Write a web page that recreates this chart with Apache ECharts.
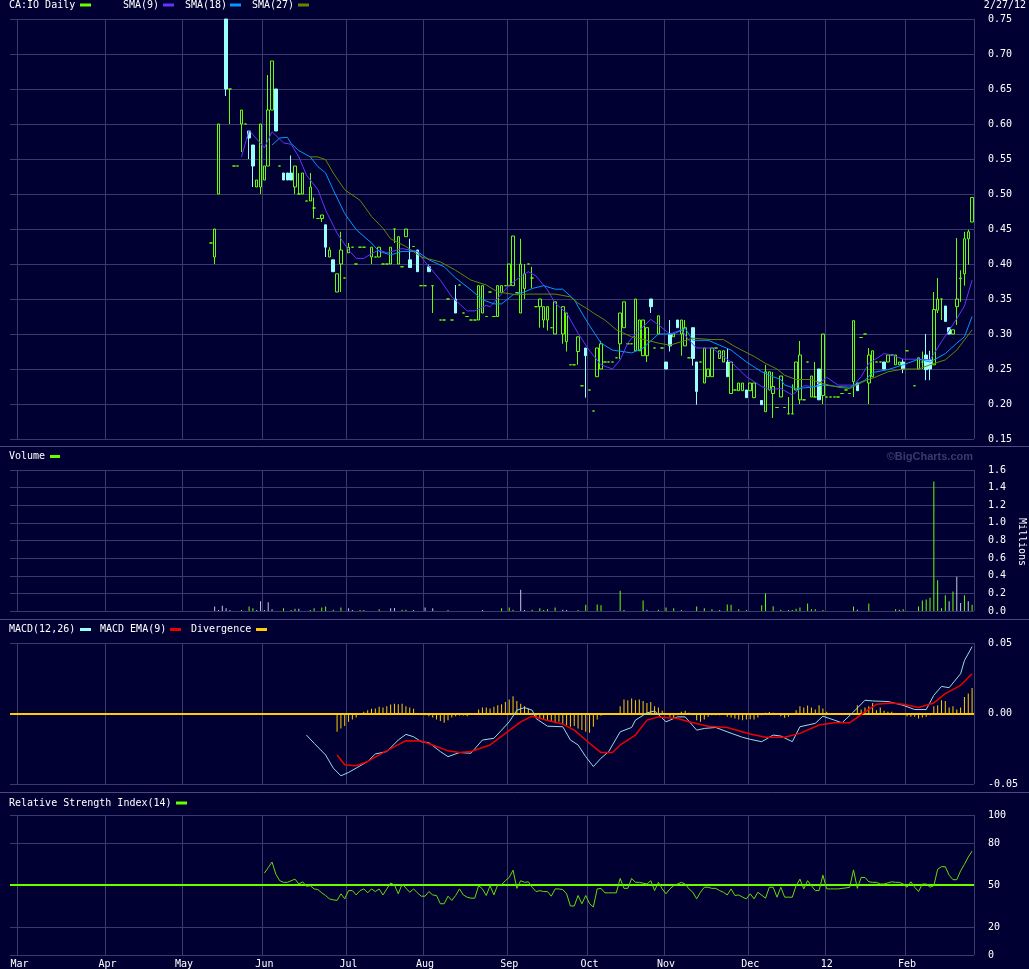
<!DOCTYPE html>
<html><head><meta charset="utf-8">
<script src="https://cdn.jsdelivr.net/npm/echarts@6/dist/echarts.min.js"></script>
<style>html,body{margin:0;padding:0;background:#000033;}#c{width:1029px;height:969px;}</style>
</head><body><div id="c"></div>
<script>
// ---------- calendar (trading days, TSX-V holidays excluded) ----------
const holidays = ['2011-04-22','2011-05-23','2011-07-01','2011-08-01','2011-09-05','2011-10-10','2011-12-26','2011-12-27','2012-01-02','2012-02-20'];
const firstDay = '2011-03-01', lastDay = '2012-02-27';
const monthLabels = ['12','Feb','Mar','Apr','May','Jun','Jul','Aug','Sep','Oct','Nov','Dec'];
const priceTicks = {min: 0.15, max: 0.75, step: 0.05};
const volTicks = {min: 0, max: 1.6, step: 0.2};
const macdTicks = {min: -0.05, max: 0.05, step: 0.05};
const rsiLabels = [0, 20, 50, 80, 100];

// ---------- price: [dayIndex, open, close, low, high] ----------
const ohlc = [
[50,.43,.43,.43,.43],[51,.41,.45,.40,.45],[52,.50,.60,.50,.60],[54,.75,.65,.64,.75],[55,.65,.65,.60,.65],
[56,.54,.54,.54,.54],[57,.54,.54,.54,.54],[58,.60,.62,.56,.62],[59,.60,.60,.60,.60],[60,.59,.58,.55,.59],
[61,.57,.54,.51,.57],[62,.51,.52,.51,.52],[63,.51,.60,.50,.60],[64,.52,.54,.52,.54],[65,.54,.62,.54,.67],
[66,.62,.69,.62,.69],[67,.65,.59,.59,.65],[68,.54,.54,.54,.54],[69,.53,.52,.52,.53],[70,.53,.52,.52,.53],
[71,.53,.52,.52,.555],[72,.51,.54,.50,.54],[73,.50,.50,.50,.53],[74,.50,.53,.50,.53],[75,.49,.49,.49,.49],
[76,.49,.51,.49,.53],[77,.48,.48,.465,.495],[78,.465,.465,.465,.465],[79,.465,.47,.46,.47],[80,.456,.424,.41,.456],
[81,.41,.42,.41,.424],[82,.406,.389,.389,.406],[83,.36,.386,.36,.386],[84,.40,.42,.36,.446],[85,.38,.38,.38,.38],
[86,.416,.424,.416,.43],[87,.424,.424,.424,.424],[88,.40,.40,.40,.40],[89,.424,.424,.424,.424],[90,.424,.424,.424,.424],
[92,.41,.424,.40,.424],[93,.41,.41,.41,.41],[94,.41,.424,.41,.424],[95,.40,.40,.40,.40],[96,.40,.40,.40,.40],
[97,.40,.424,.40,.424],[98,.45,.45,.43,.45],[99,.40,.439,.40,.439],[100,.396,.396,.396,.396],[101,.439,.45,.439,.45],
[102,.406,.395,.395,.436],[103,.425,.425,.425,.425],[104,.42,.389,.389,.42],[105,.369,.369,.369,.369],[106,.369,.369,.369,.369],
[107,.396,.389,.389,.399],[108,.369,.369,.33,.369],[110,.32,.32,.32,.32],[111,.32,.32,.32,.32],[112,.35,.35,.35,.35],
[113,.32,.32,.32,.32],[114,.35,.33,.33,.37],[115,.37,.37,.37,.37],[116,.33,.33,.33,.33],[117,.325,.325,.325,.325],
[118,.32,.32,.32,.32],[119,.32,.32,.32,.32],[120,.32,.369,.32,.369],[121,.33,.369,.33,.369],[122,.325,.325,.325,.325],
[123,.36,.36,.36,.36],[124,.325,.325,.325,.325],[125,.325,.369,.325,.369],[126,.359,.369,.359,.369],[127,.369,.369,.369,.369],
[128,.369,.40,.369,.40],[129,.369,.44,.369,.44],[130,.359,.359,.359,.359],[131,.33,.40,.33,.436],[132,.365,.386,.35,.40],
[133,.40,.40,.40,.40],[134,.38,.38,.366,.396],[135,.339,.339,.339,.339],[136,.339,.35,.309,.35],[137,.32,.339,.309,.339],
[138,.32,.339,.305,.339],[139,.309,.309,.309,.309],[140,.30,.346,.30,.346],[142,.30,.339,.286,.339],[143,.289,.33,.275,.33],
[144,.256,.256,.256,.256],[145,.256,.256,.256,.256],[146,.275,.296,.256,.296],[147,.226,.226,.226,.226],[148,.28,.269,.209,.28],
[149,.22,.22,.22,.22],[150,.19,.19,.19,.19],[151,.239,.28,.239,.28],[152,.25,.286,.25,.29],[153,.26,.26,.26,.26],
[154,.26,.26,.26,.26],[155,.26,.26,.26,.26],[156,.266,.266,.266,.266],[157,.286,.33,.264,.33],[158,.309,.346,.309,.346],
[159,.286,.286,.286,.286],[160,.286,.286,.286,.286],[161,.276,.35,.276,.35],[162,.276,.32,.276,.32],[163,.269,.32,.269,.32],
[164,.269,.309,.26,.309],[165,.35,.339,.33,.35],[166,.28,.28,.28,.28],[167,.30,.326,.30,.326],[168,.28,.28,.28,.28],
[169,.26,.25,.25,.26],[170,.30,.283,.275,.32],[171,.296,.30,.296,.30],[172,.32,.309,.309,.32],[173,.30,.32,.269,.32],
[174,.283,.309,.283,.32],[175,.266,.266,.266,.266],[176,.309,.265,.255,.309],[177,.26,.218,.199,.26],[178,.26,.26,.26,.26],
[179,.23,.28,.23,.28],[180,.239,.25,.239,.25],[181,.239,.28,.239,.28],[182,.28,.28,.28,.28],[183,.265,.276,.265,.276],
[184,.26,.276,.26,.276],[185,.26,.239,.239,.28],[186,.215,.26,.215,.26],[187,.22,.22,.22,.22],[188,.219,.23,.219,.23],
[189,.219,.23,.219,.23],[190,.22,.209,.209,.22],[191,.219,.23,.219,.23],[192,.209,.23,.209,.23],[194,.205,.199,.199,.205],
[195,.189,.246,.189,.256],[196,.22,.246,.22,.246],[197,.215,.225,.18,.246],[198,.195,.195,.195,.195],[199,.21,.24,.21,.24],
[200,.195,.195,.195,.195],[201,.186,.186,.186,.21],[202,.186,.186,.186,.228],[203,.22,.26,.22,.26],[204,.206,.27,.20,.29],
[205,.206,.206,.206,.206],[206,.26,.26,.26,.26],[207,.21,.24,.21,.24],[208,.21,.21,.21,.26],[209,.25,.206,.206,.25],
[210,.212,.30,.20,.30],[211,.21,.21,.21,.21],[212,.21,.21,.21,.21],[213,.21,.21,.21,.21],[214,.21,.21,.21,.21],
[215,.215,.215,.215,.215],[216,.22,.22,.22,.22],[217,.215,.215,.215,.215],[218,.232,.319,.21,.319],[219,.23,.219,.219,.23],
[220,.295,.295,.295,.295],[221,.30,.30,.30,.30],[222,.23,.27,.20,.28],[223,.239,.276,.239,.276],[224,.26,.26,.26,.26],
[225,.26,.26,.26,.26],[226,.26,.25,.25,.26],[227,.26,.27,.26,.27],[228,.27,.27,.27,.27],[229,.256,.27,.256,.27],
[230,.256,.26,.256,.26],[231,.26,.25,.244,.264],[232,.276,.276,.276,.276],[234,.226,.226,.226,.226],[235,.25,.266,.25,.266],
[236,.26,.26,.25,.275],[237,.27,.249,.234,.30],[238,.263,.25,.234,.276],[239,.256,.335,.256,.36],[240,.334,.35,.33,.38],
[241,.35,.35,.32,.35],[242,.34,.318,.318,.34],[243,.309,.30,.30,.309],[244,.30,.306,.30,.306],[245,.339,.35,.313,.437],
[246,.379,.38,.346,.391],[247,.386,.436,.369,.446],[248,.436,.446,.399,.449],[249,.46,.495,.46,.495]
];

// ---------- moving averages: [dayIndex, value] ----------
const sma9 = [[58,.553],[60,.591],[64,.566],[66,.589],[69,.573],[71,.571],[73,.553],[75,.527],[78,.506],[80,.477],[83,.444],[86,.42],[88,.408],[90,.408],[92,.415],[94,.42],[96,.416],[100,.422],[104,.418],[106,.403],[110,.377],[113,.353],[117,.333],[119,.333],[122,.341],[123,.339],[125,.351],[128,.37],[131,.382],[133,.389],[135,.383],[138,.363],[140,.344],[143,.33],[146,.301],[149,.276],[152,.256],[155,.25],[157,.263],[159,.287],[161,.30],[165,.321],[167,.313],[170,.30],[173,.306],[175,.291],[177,.28],[181,.28],[186,.26],[190,.239],[194,.225],[196,.221],[199,.222],[202,.213],[205,.226],[208,.225],[211,.238],[214,.227],[218,.227],[220,.239],[222,.258],[226,.272],[228,.27],[231,.264],[235,.264],[238,.263],[241,.289],[243,.305],[245,.322],[247,.34],[249,.377]];
const sma18 = [[66,.57],[68,.58],[70,.581],[71,.572],[73,.562],[76,.553],[78,.539],[80,.53],[82,.506],[85,.472],[88,.449],[92,.43],[94,.418],[97,.413],[100,.418],[104,.418],[107,.406],[111,.396],[114,.38],[118,.363],[121,.349],[124,.343],[126,.343],[129,.356],[132,.36],[134,.365],[137,.369],[140,.364],[142,.364],[145,.349],[147,.33],[149,.312],[152,.287],[155,.277],[160,.273],[163,.28],[167,.30],[171,.30],[174,.308],[176,.291],[180,.291],[183,.284],[186,.277],[190,.26],[194,.246],[197,.239],[199,.235],[200,.227],[203,.222],[207,.224],[210,.227],[214,.225],[217,.224],[221,.234],[223,.245],[227,.249],[231,.256],[235,.264],[238,.26],[242,.272],[245,.287],[247,.296],[249,.325]];
const sma27 = [[76,.553],[78,.553],[80,.549],[82,.53],[85,.506],[89,.491],[92,.468],[95,.451],[97,.436],[101,.425],[105,.41],[110,.403],[114,.391],[118,.377],[122,.37],[125,.36],[130,.356],[133,.357],[137,.357],[140,.357],[144,.353],[146,.344],[149,.334],[150,.33],[153,.32],[156,.306],[160,.296],[164,.291],[167,.287],[170,.284],[173,.289],[176,.294],[181,.292],[184,.292],[187,.282],[192,.268],[195,.258],[198,.25],[200,.241],[203,.235],[207,.235],[210,.229],[214,.224],[217,.222],[221,.233],[224,.239],[227,.246],[231,.25],[235,.25],[238,.256],[242,.263],[245,.277],[249,.306]];

// ---------- volume (millions): [dayIndex, value, up?1:0] ----------
const volume = [[51,.05,0],[52,.01,0],[53,.06,0],[54,.03,0],[55,.01,0],[58,.01,1],[60,.05,1],[61,.03,1],[62,.01,0],[63,.11,0],[64,.01,0],[65,.10,0],[66,.02,0],[69,.03,1],[71,.01,1],[72,.025,1],[73,.025,0],[76,.01,1],[77,.03,1],[79,.04,1],[80,.05,1],[82,.015,1],[84,.04,1],[86,.03,0],[87,.01,0],[89,.01,1],[90,.01,1],[94,.02,1],[97,.03,0],[98,.035,0],[100,.015,1],[101,.015,1],[103,.01,1],[106,.04,0],[108,.03,0],[112,.01,1],[121,.01,0],[126,.03,1],[128,.04,1],[129,.015,1],[131,.24,0],[132,.01,0],[134,.015,1],[136,.03,1],[137,.01,1],[138,.02,1],[140,.04,1],[142,.015,0],[143,.01,0],[146,.01,1],[148,.07,1],[151,.075,1],[152,.065,1],[157,.23,1],[158,.01,0],[163,.12,1],[164,.015,0],[167,.015,1],[169,.04,1],[171,.03,1],[173,.01,1],[177,.05,1],[179,.03,1],[181,.02,1],[183,.01,1],[185,.075,1],[186,.07,1],[188,.02,1],[190,.01,1],[194,.065,1],[195,.20,1],[197,.055,1],[199,.015,1],[201,.01,1],[202,.01,1],[203,.025,1],[204,.04,1],[206,.085,1],[207,.02,1],[208,.02,1],[210,.01,1],[218,.05,1],[219,.015,0],[222,.085,1],[229,.02,1],[230,.015,1],[231,.02,1],[235,.05,1],[236,.12,1],[237,.13,1],[238,.15,1],[239,1.47,1],[240,.35,1],[241,.03,1],[242,.18,1],[243,.11,0],[244,.22,1],[245,.39,0],[246,.09,0],[247,.18,1],[248,.11,0],[249,.07,1]];

// ---------- MACD(12,26), EMA(9), divergence: [dayIndex, value] ----------
const macd = [[75,-.0153],[77,-.0211],[80,-.0294],[82,-.0387],[84,-.0442],[86,-.0418],[88,-.0387],[91,-.034],[93,-.0287],[96,-.027],[99,-.0188],[101,-.0148],[103,-.0165],[105,-.02],[107,-.0207],[110,-.027],[112,-.0306],[115,-.0277],[118,-.0282],[121,-.0188],[124,-.0176],[126,-.0118],[128,-.0059],[130,.0023],[132,.0042],[134,.0023],[135,-.0035],[138,-.009],[142,-.0094],[144,-.0188],[146,-.0223],[148,-.0306],[150,-.0376],[152,-.0317],[154,-.027],[157,-.013],[160,-.0099],[161,-.0047],[164,.0004],[166,.0018],[169,-.0059],[172,-.0024],[174,-.0024],[177,-.0118],[179,-.0106],[182,-.0099],[185,-.013],[189,-.0169],[191,-.0183],[194,-.02],[197,-.0153],[199,-.016],[202,-.02],[204,-.0094],[208,-.007],[210,-.0019],[213,-.0047],[215,-.0066],[218,.0011],[221,.0094],[223,.0089],[227,.0085],[231,.0058],[234,.0028],[237,.0028],[239,.0129],[241,.0192],[243,.0183],[246,.0282],[247,.0375],[249,.0474]];
const macdEma = [[83,-.0294],[85,-.0364],[88,-.0371],[91,-.034],[94,-.0294],[98,-.0235],[101,-.0193],[105,-.0195],[108,-.0223],[112,-.0265],[115,-.0277],[118,-.027],[123,-.0223],[127,-.0141],[131,-.0059],[134,-.0019],[137,-.0042],[142,-.0075],[145,-.0118],[149,-.0211],[152,-.0277],[155,-.0277],[157,-.0223],[161,-.0153],[164,-.0047],[167,-.0024],[172,-.0035],[175,-.0059],[180,-.009],[185,-.0099],[191,-.0146],[195,-.0169],[200,-.0169],[204,-.0141],[209,-.0082],[213,-.0066],[217,-.0066],[221,.0011],[224,.0065],[228,.0075],[231,.0065],[235,.0042],[239,.0075],[242,.0141],[246,.02],[249,.0282]];
const divergence = [[83,-.0129],[84,-.0106],[85,-.0089],[86,-.0059],[87,-.0042],[88,-.0028],
[90,.0012],[91,.0023],[92,.0033],[93,.0035],[94,.0047],[95,.0042],[96,.0052],[97,.0063],[98,.007],[99,.0066],[100,.007],[101,.0052],[102,.0042],[103,.0033],
[106,-.0012],[107,-.0019],[108,-.0028],[109,-.0042],[110,-.0054],[111,-.0066],[112,-.0047],[113,-.0028],[114,-.0019],[115,-.0014],[116,-.0014],[117,-.0019],
[120,.0028],[121,.0042],[122,.0042],[123,.0035],[124,.0047],[125,.0059],[126,.0066],[127,.0082],[128,.0099],[129,.0122],[130,.0089],[131,.007],[132,.0052],[133,.0035],
[135,-.0023],[136,-.0035],[137,-.0042],[138,-.0047],[139,-.0059],[140,-.007],[141,-.0059],[142,-.0075],[143,-.0084],[144,-.0094],[145,-.0089],[146,-.0106],[147,-.0117],[148,-.0129],[149,-.0136],[150,-.0094],[151,-.0042],[152,-.0016],
[157,.0052],[158,.0099],[159,.0094],[160,.0106],[161,.0094],[162,.0099],[163,.0089],[164,.0075],[165,.0082],[166,.0052],[167,.0042],[168,.0019],
[170,-.0023],[171,-.0035],[172,-.0012],[173,.0012],[174,.0019],[175,.0005],[176,-.0012],[177,-.0047],[178,-.0059],[179,-.0042],[180,-.0023],
[181,-.0012],[182,-.0012],[183,-.0012],[184,-.0005],[185,-.0023],[186,-.0028],[187,-.0035],[188,-.0042],[189,-.0047],[190,-.0042],[191,-.004],[192,-.0042],[193,-.0028],[194,-.0012],[195,.0005],[196,.001],[197,.0005],[198,-.0007],[199,-.0019],[200,-.0031],[201,-.0023],[202,-.001],
[203,.0023],[204,.0052],[205,.0042],[206,.0056],[207,.0042],[208,.0028],[209,.0059],[210,.0035],[211,.0012],
[215,-.0007],[217,-.0007],[219,.0059],[220,.0028],[221,.0042],[222,.0052],[223,.0075],[224,.0023],[225,.0042],[226,.0019],[227,.0012],[228,.0012],
[231,-.0007],[232,-.0019],[233,-.0023],[234,-.0023],[235,-.0035],[236,-.0028],[237,-.0023],[238,-.0012],
[239,.0052],[240,.0059],[241,.0094],[242,.0089],[243,.0042],[244,.0052],[245,.0028],[246,.0042],[247,.0117],[248,.0141],[249,.0181]];

// ---------- RSI(14): [dayIndex, value] ----------
const rsi = [[64,58.5],[65,62.4],[66,66.4],[67,57.7],[68,53.1],[69,51.9],[70,51.9],[72,54.2],[73,50.7],[74,52.3],[75,49.1],[76,49.5],[77,47.2],[78,46.7],[79,44.4],[80,42.5],[81,40.1],[82,39.4],[83,39.0],[84,43.7],[85,40.1],[86,46.0],[87,46.0],[88,42.9],[89,46.0],[90,47.2],[91,44.4],[92,47.2],[93,45.3],[94,47.2],[95,42.9],[96,47.2],[97,51.4],[98,50],[99,43.7],[100,50.7],[102,44.8],[103,47.2],[104,44.4],[105,42.0],[106,42.0],[107,45.3],[108,42.9],[109,42.5],[110,36.6],[111,36.6],[112,42.0],[113,39.0],[114,42.5],[115,47.2],[116,42.9],[117,41.3],[118,40.6],[119,40.6],[120,49.5],[121,47.2],[122,42.5],[123,49.5],[124,42.9],[125,50.2],[126,50.2],[127,53.1],[128,55.4],[129,60.6],[130,47.6],[131,53.1],[132,51.9],[133,52.3],[134,48.4],[135,45.3],[136,46.0],[137,45.3],[138,45.3],[139,42.0],[140,47.2],[141,47.2],[142,46.7],[143,43.7],[144,35.0],[145,35.0],[146,42.5],[147,36.6],[148,42.5],[149,36.6],[150,34.3],[151,47.2],[152,47.6],[153,44.4],[154,44.4],[155,44.4],[156,44.4],[157,54.7],[158,47.6],[159,47.6],[160,54.7],[161,51.9],[162,51.9],[164,50.7],[165,53.1],[166,46.0],[167,51.9],[168,47.2],[169,43.7],[170,47.2],[171,49.5],[172,50.7],[173,51.9],[174,50.7],[175,47.2],[176,44.8],[177,40.1],[178,44.8],[179,48.4],[180,48.4],[181,47.6],[182,47.6],[183,46.0],[184,44.8],[185,42.9],[186,47.2],[187,42.5],[188,42.9],[189,41.3],[190,40.1],[191,43.7],[192,40.1],[193,44.8],[195,40.6],[196,48.4],[197,48.4],[198,41.3],[199,48.4],[200,41.3],[201,41.3],[202,41.3],[203,49.5],[204,54.2],[205,47.2],[206,53.1],[207,49.5],[208,46.0],[209,46.0],[210,57.0],[211,47.2],[212,47.2],[213,47.2],[214,47.2],[215,47.6],[216,47.9],[217,48.4],[218,60.8],[219,47.6],[220,55.4],[221,55.4],[222,52.3],[223,51.9],[224,51.9],[225,50.7],[226,50.7],[227,51.5],[228,52.3],[229,51.9],[230,51.9],[231,50.7],[232,48.4],[233,52.3],[234,48.4],[235,45.3],[236,50.7],[237,50.7],[238,48.4],[239,49.5],[240,61.3],[241,63.1],[242,63.1],[243,57.0],[244,53.8],[245,53.8],[246,60.1],[247,64.8],[248,70.0],[249,74.2]];

// ---------- build ----------
const OFF = 2; // two empty slots at left edge of the plot
const iso = d => d.toISOString().slice(0, 10);
const days = [];
for (let d = new Date(firstDay + 'T00:00:00Z'); iso(d) <= lastDay; d.setUTCDate(d.getUTCDate() + 1)) {
  const wd = d.getUTCDay();
  if (wd === 0 || wd === 6 || holidays.includes(iso(d))) continue;
  days.push(iso(d));
}
const categories = ['', ''].concat(days);
const isMonthStart = categories.map((c, i) => c !== '' && (i === OFF || c.slice(5, 7) !== categories[i - 1].slice(5, 7)));
const monthFn = (idx) => isMonthStart[idx];
const shift = arr => arr.map(p => [p[0] + OFF, p[1]]);

const GRID = '#3a3a6c';
const FONT = 'DejaVu Sans Mono';
const GREEN = '#66ff00', CYAN = '#99ffff';

const grids = [
  {left: 10, right: 55, top: 19, height: 420},
  {left: 10, right: 55, top: 470, height: 141},
  {left: 10, right: 55, top: 643, height: 141},
  {left: 10, right: 55, top: 815, height: 142}
];
const xAxes = grids.map((g, i) => ({
  type: 'category', gridIndex: i, data: categories, boundaryGap: true,
  axisLine: {show: false}, axisTick: {show: false},
  axisLabel: {show: i === 3, interval: monthFn, margin: 4, color: '#ffffff', fontFamily: FONT, fontSize: 10,
    formatter: v => { if (!v) return ''; const m = +v.slice(5, 7) - 1; return monthLabels[m]; }},
  splitLine: {show: true, interval: monthFn, lineStyle: {color: GRID, width: 1}}
}));
const yBase = (i, t, fmt) => ({
  type: 'value', gridIndex: i, position: 'right', min: t.min, max: t.max, interval: t.step,
  axisLine: {show: false}, axisTick: {show: false},
  axisLabel: {margin: 14, color: '#ffffff', fontFamily: FONT, fontSize: 10, formatter: fmt},
  splitLine: {show: true, lineStyle: {color: GRID, width: 1}}
});
const yAxes = [
  yBase(0, priceTicks, v => v.toFixed(2)),
  yBase(1, volTicks, v => v.toFixed(1)),
  yBase(2, macdTicks, v => v.toFixed(2)),
  Object.assign(yBase(3, {min: 0, max: 100, step: 10}, v => rsiLabels.includes(Math.round(v)) ? String(Math.round(v)) : ''), {splitLine: {show: false}})
];

const lineSeries = (name, data, color, xi, extra) => Object.assign({
  name, type: 'line', xAxisIndex: xi, yAxisIndex: xi, data: shift(data), symbol: 'none', showSymbol: false,
  lineStyle: {color, width: 1}, itemStyle: {color}, z: 5, silent: true
}, extra || {});

const series = [
  {
    name: 'CA:IO Daily', type: 'candlestick', xAxisIndex: 0, yAxisIndex: 0, barWidth: 3,
    encode: {x: 0, y: [1, 2, 3, 4]},
    data: ohlc.map(d => [d[0] + OFF, d[1], d[2], d[3], d[4]]),
    itemStyle: {color: 'rgba(0,0,0,0)', color0: CYAN, borderColor: GREEN, borderColor0: CYAN, borderColorDoji: GREEN, borderWidth: 1},
    z: 3, silent: true
  },
  lineSeries('SMA(9)', sma9, '#6633ff', 0),
  lineSeries('SMA(18)', sma18, '#0099ff', 0),
  lineSeries('SMA(27)', sma27, '#668800', 0),
  {
    name: 'Volume', type: 'bar', xAxisIndex: 1, yAxisIndex: 1, barWidth: 1, silent: true,
    data: volume.map(v => ({value: [v[0] + OFF, v[1]], itemStyle: {color: v[2] ? GREEN : '#c8c8e0'}}))
  },
  {
    name: 'Divergence', type: 'bar', xAxisIndex: 2, yAxisIndex: 2, barWidth: 1, silent: true,
    data: shift(divergence), itemStyle: {color: '#ffcc00'},
    markLine: {silent: true, symbol: 'none', label: {show: false}, lineStyle: {color: '#ffcc00', width: 2, type: 'solid'}, data: [{yAxis: 0}]}
  },
  lineSeries('MACD(12,26)', macd, '#99dde6', 2),
  lineSeries('MACD EMA(9)', macdEma, '#ee0000', 2, {lineStyle: {color: '#ee0000', width: 1.5}}),
  lineSeries('RSI', rsi, '#66dd00', 3, {
    markLine: {silent: true, symbol: 'none', label: {show: false}, animation: false,
      data: [
        {yAxis: 0, lineStyle: {color: GRID, width: 1, type: 'solid'}},
        {yAxis: 20, lineStyle: {color: GRID, width: 1, type: 'solid'}},
        {yAxis: 80, lineStyle: {color: GRID, width: 1, type: 'solid'}},
        {yAxis: 100, lineStyle: {color: GRID, width: 1, type: 'solid'}},
        {yAxis: 50, lineStyle: {color: GREEN, width: 2, type: 'solid'}}
      ]}
  })
];

const txt = (text, x, y, extra) => ({type: 'text', x, y, silent: true, style: Object.assign({text, x: 0, y: 0, fill: '#ffffff', font: '10px "DejaVu Sans Mono"', verticalAlign: 'middle'}, extra || {})});
const sw = (x, y, color, w) => ({type: 'rect', silent: true, shape: {x, y, width: w || 11, height: 3}, style: {fill: color}});
const sep = y => ({type: 'line', silent: true, shape: {x1: 0, y1: y, x2: 1029, y2: y}, style: {stroke: '#4a4a7e', lineWidth: 1}});

const graphic = [
  sep(446.5), sep(619.5), sep(792.5),
  txt('CA:IO Daily', 9, 5), sw(80, 3.5, GREEN),
  txt('SMA(9)', 123, 5), sw(163, 3.5, '#6633ff'),
  txt('SMA(18)', 185, 5), sw(230, 3.5, '#0099ff'),
  txt('SMA(27)', 252, 5), sw(298, 3.5, '#668800'),
  txt('2/27/12', 1026, 5, {align: 'right'}),
  txt('Volume', 9, 456.5), sw(50, 455, GREEN, 10),
  txt('©BigCharts.com', 973, 456.5, {align: 'right', fill: '#3a3a6e', font: 'bold 11px "Liberation Sans"'}),
  {type: 'text', x: 1022, y: 542, rotation: -Math.PI / 2, silent: true, style: {text: 'Millions', x: 0, y: 0, fill: '#ffffff', font: '10px "DejaVu Sans Mono"', align: 'center', verticalAlign: 'middle'}},
  txt('MACD(12,26)', 9, 629.5), sw(80, 628, '#99ffff', 11),
  txt('MACD EMA(9)', 100, 629.5), sw(170, 628, '#ee0000', 11),
  txt('Divergence', 191, 629.5), sw(256, 628, '#ffcc00', 11),
  txt('Relative Strength Index(14)', 9, 803), sw(176, 801.5, GREEN, 11)
];

const chart = echarts.init(document.getElementById('c'), null, {renderer: 'canvas'});
chart.setOption({
  backgroundColor: '#000033',
  animation: false,
  textStyle: {fontFamily: FONT, fontSize: 10, color: '#ffffff'},
  grid: grids, xAxis: xAxes, yAxis: yAxes, series, graphic
});
</script></body></html>
